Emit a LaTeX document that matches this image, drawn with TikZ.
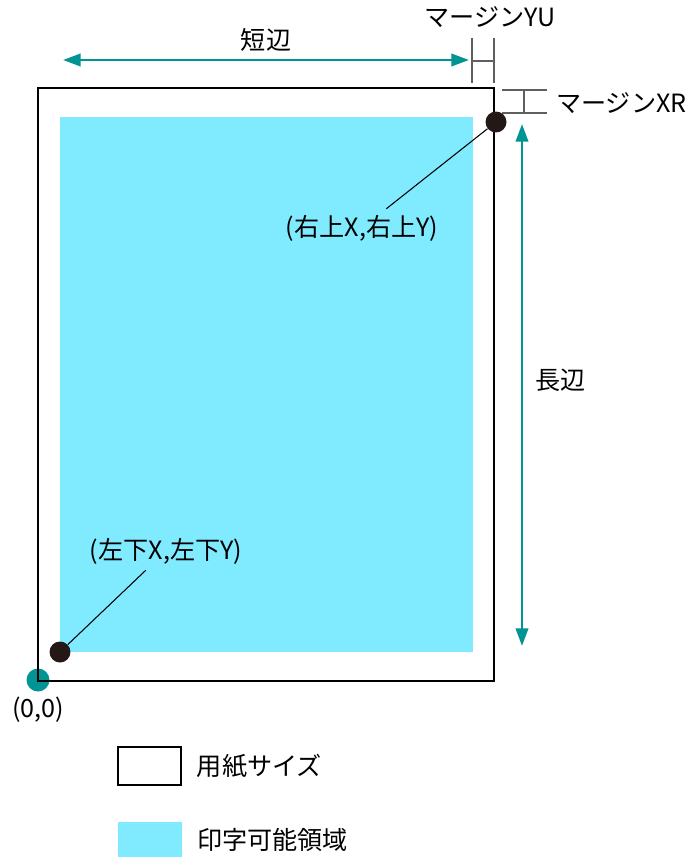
\documentclass[tikz,border=0pt]{standalone}
\usepackage{fontspec}
\setmainfont{Noto Sans CJK JP}
\usetikzlibrary{
    arrows.meta,
    positioning
}
\definecolor{SideTeal}{RGB}{0,148,148}
\definecolor{PrintCyan}{RGB}{128,234,255}
\definecolor{MarginGray}{RGB}{95,95,95}
\definecolor{DotBrown}{RGB}{35,24,21}

\begin{document}
\begin{tikzpicture}[
    x=0.02cm,
    y=-0.02cm,
    font=\fontsize{14.3}{16}\selectfont,
    >={Triangle[length=10pt,width=7pt]}
]
\useasboundingbox (0,0) rectangle (688,858);

% origin mark, paper and printable area
\node[
    circle,
    fill=SideTeal,
    inner sep=0pt,
    minimum size=0.46cm
] (origin) at (38,680) {};

\node[
    fill=PrintCyan,
    inner sep=0pt,
    minimum width=8.26cm,
    minimum height=10.7cm
] (printarea) at (266.5,384.5) {};

\node[
    draw,
    line width=1.4pt,
    inner sep=0pt,
    minimum width=9.12cm,
    minimum height=11.86cm
] (paper) at (266,384.5) {};

% corner points
\node[
    circle,
    fill=DotBrown,
    inner sep=0pt,
    minimum size=0.42cm
] (urdot) at (496,122) {};

\node[
    circle,
    fill=DotBrown,
    inner sep=0pt,
    minimum size=0.42cm
] (lldot) at (60,652) {};

\node (urlabel) at (362,228) {(右上X,右上Y)};
\node (lllabel) at (166,551) {(左下X,左下Y)};
\node (originlabel) at (38,710) {(0,0)};

\draw[line width=0.6pt] (urdot) -- (urlabel);
\draw[line width=0.6pt] (lldot) -- (lllabel);

% short and long side
\coordinate (shortleft) at (63,60);
\coordinate (shortright) at (469,60);
\draw[<->, SideTeal, line width=1.5pt] (shortleft) -- (shortright)
    node[midway, above=1pt, text=black] (shortlabel) {短辺};

\coordinate (longtop) at (522,124);
\coordinate (longbottom) at (522,646);
\draw[<->, SideTeal, line width=1.5pt] (longtop) -- (longbottom);
\node[anchor=west] (longlabel) at (529,380) {長辺};

% margins
\coordinate (yuleft) at (472,38);
\coordinate (yuright) at (494,38);
\draw[MarginGray, line width=1.3pt] (yuleft) -- ++(0,45);
\draw[MarginGray, line width=1.3pt] (yuright) -- ++(0,45);
\draw[MarginGray, line width=1.3pt] (472,61) -- (494,61);
\node (yulabel) at (490,17) {マージンYU};

\coordinate (xrtop) at (502,90);
\coordinate (xrbottom) at (502,113);
\draw[MarginGray, line width=1.3pt] (xrtop) -- ++(45,0);
\draw[MarginGray, line width=1.3pt] (xrbottom) -- ++(45,0);
\draw[MarginGray, line width=1.3pt] (524,90) -- (524,113);
\node[anchor=west] (xrlabel) at (550,103) {マージンXR};

% legend
\node[
    draw,
    line width=1.4pt,
    inner sep=0pt,
    minimum width=1.26cm,
    minimum height=0.76cm
] (paperkey) at (149.5,766) {};
\node[right=0.17cm of paperkey] (paperkeylabel) {用紙サイズ};

\node[
    fill=PrintCyan,
    inner sep=0pt,
    minimum width=1.28cm,
    minimum height=0.7cm
] (printkey) at (150,839.5) {};
\node[right=0.17cm of printkey] (printkeylabel) {印字可能領域};

\end{tikzpicture}
\end{document}
